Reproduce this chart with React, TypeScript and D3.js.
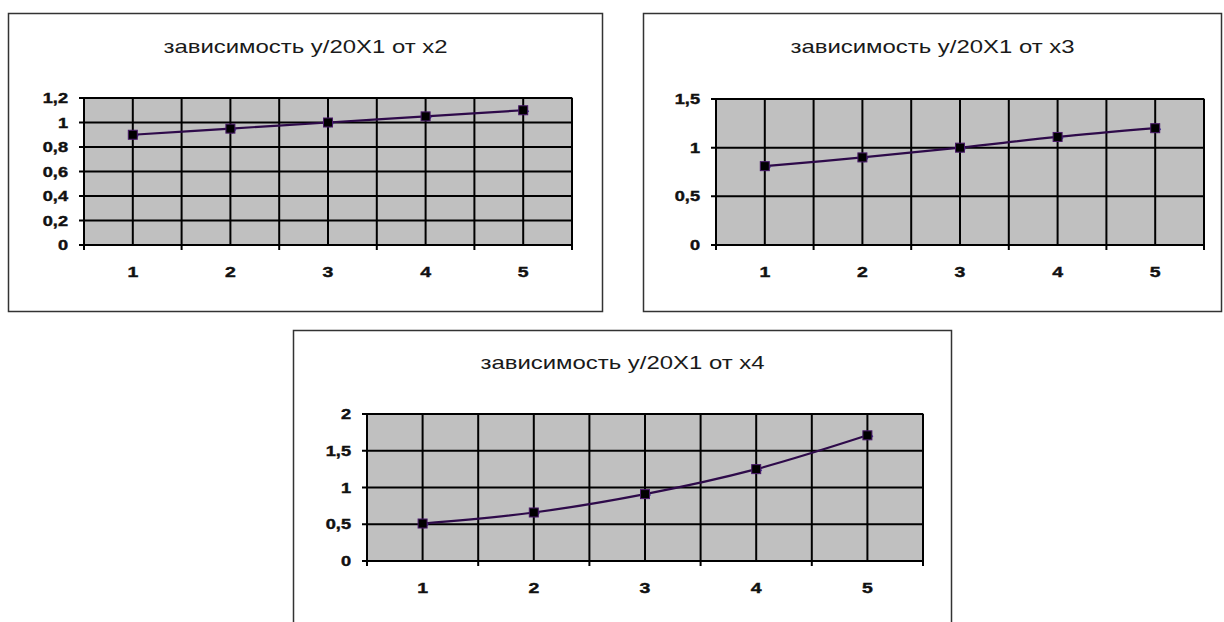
import React from "react";
import * as d3 from "d3";

const categories = [1, 2, 3, 4, 5];
const valuesX2 = [0.9, 0.95, 1.0, 1.05, 1.1];
const valuesX3 = [0.81, 0.9, 1.0, 1.11, 1.2];
const valuesX4 = [0.51, 0.66, 0.91, 1.25, 1.71];
const ticksX2 = [0, 0.2, 0.4, 0.6, 0.8, 1, 1.2];
const ticksX3 = [0, 0.5, 1, 1.5];
const ticksX4 = [0, 0.5, 1, 1.5, 2];
const titles = ["зависимость y/20X1 от x2", "зависимость y/20X1 от x3", "зависимость y/20X1 от x4"];

const fmt = (d: number) => String(d).replace(".", ",");
const FONT = "Liberation Sans, Arial, sans-serif";
const SX = 1.3;

type Cfg = {
  title: string;
  values: number[];
  ticks: number[];
  frame: { x: number; y: number; w: number; h: number };
  plot: { x: number; y: number; w: number; h: number };
  titleY: number;
};

const configs: Cfg[] = [
  { title: titles[0], values: valuesX2, ticks: ticksX2, frame: { x: 8.5, y: 13.5, w: 594, h: 298 }, plot: { x: 84, y: 98, w: 488, h: 147 }, titleY: 53 },
  { title: titles[1], values: valuesX3, ticks: ticksX3, frame: { x: 643.5, y: 13.5, w: 578, h: 298 }, plot: { x: 716, y: 99, w: 488, h: 146 }, titleY: 53 },
  { title: titles[2], values: valuesX4, ticks: ticksX4, frame: { x: 293.5, y: 330.5, w: 658, h: 310 }, plot: { x: 367, y: 414, w: 556, h: 147 }, titleY: 369 },
];

function Chart({ cfg }: { cfg: Cfg }) {
  const { plot, frame } = cfg;
  const x = d3.scaleBand<number>().domain(categories).range([plot.x, plot.x + plot.w]).padding(0);
  const yMax = cfg.ticks[cfg.ticks.length - 1];
  const y = d3.scaleLinear().domain([0, yMax]).range([plot.y + plot.h, plot.y]);
  const bw = x.bandwidth();
  const cx = (c: number) => (x(c) as number) + bw / 2;
  const line = d3
    .line<number>()
    .x((_, i) => cx(categories[i]))
    .y((v) => y(v))
    .curve(d3.curveCatmullRom.alpha(0.5));
  const vLines: number[] = [];
  categories.forEach((c) => {
    vLines.push(cx(c));
    vLines.push((x(c) as number) + bw);
  });
  const boundaries = [plot.x, ...categories.map((c) => (x(c) as number) + bw)];
  return (
    <g>
      <rect x={frame.x} y={frame.y} width={frame.w} height={frame.h} fill="#fff" stroke="#333" strokeWidth={1.5} />
      <text transform={`translate(${frame.x + frame.w / 2},${cfg.titleY}) scale(1.33,1)`} textAnchor="middle" fontFamily={FONT} fontSize={18} fill="#1a1a1a">
        {cfg.title}
      </text>
      <rect x={plot.x} y={plot.y} width={plot.w} height={plot.h} fill="#c0c0c0" stroke="#808080" strokeWidth={1.5} />
      {cfg.ticks.map((t) => (
        <line key={"h" + t} x1={plot.x - 5} x2={plot.x + plot.w} y1={y(t)} y2={y(t)} stroke="#000" strokeWidth={2} />
      ))}
      {vLines.map((vx, i) => (
        <line key={"v" + i} x1={vx} x2={vx} y1={plot.y} y2={plot.y + plot.h} stroke="#000" strokeWidth={2} />
      ))}
      <line x1={plot.x} x2={plot.x} y1={plot.y} y2={plot.y + plot.h} stroke="#000" strokeWidth={2} />
      {boundaries.map((bx, i) => (
        <line key={"t" + i} x1={bx} x2={bx} y1={plot.y + plot.h} y2={plot.y + plot.h + 5} stroke="#000" strokeWidth={2} />
      ))}
      {cfg.ticks.map((t) => (
        <text key={"yl" + t} transform={`translate(${plot.x - 16},${y(t)}) scale(${SX},1)`} dy="0.36em" textAnchor="end" fontFamily={FONT} fontWeight="bold" fontSize={14} fill="#111" stroke="#111" strokeWidth={0.4}>
          {fmt(t)}
        </text>
      ))}
      {categories.map((c) => (
        <text key={"xl" + c} transform={`translate(${cx(c)},${plot.y + plot.h + 32}) scale(${SX},1)`} textAnchor="middle" fontFamily={FONT} fontWeight="bold" fontSize={15} fill="#111" stroke="#111" strokeWidth={0.4}>
          {c}
        </text>
      ))}
      <path d={line(cfg.values) || ""} fill="none" stroke="#2e0a4a" strokeWidth={2.2} />
      {cfg.values.map((v, i) => {
        const px = cx(categories[i]);
        const py = y(v);
        return (
          <g key={"m" + i}>
            <path d={`M${px + 2},${py - 3} L${px + 6},${py + 1} L${px + 2},${py + 5} L${px - 2},${py + 1} Z`} fill="#3a2a9a" />
            <rect x={px - 4.5} y={py - 4.5} width={9} height={9} fill="#000" stroke="#4a1a6a" strokeWidth={1} />
          </g>
        );
      })}
    </g>
  );
}

export default function App() {
  return (
    <svg width={1224} height={622} style={{ position: "absolute", left: 0, top: 0, background: "#fff" }}>
      {configs.map((c, i) => (
        <Chart key={i} cfg={c} />
      ))}
    </svg>
  );
}
